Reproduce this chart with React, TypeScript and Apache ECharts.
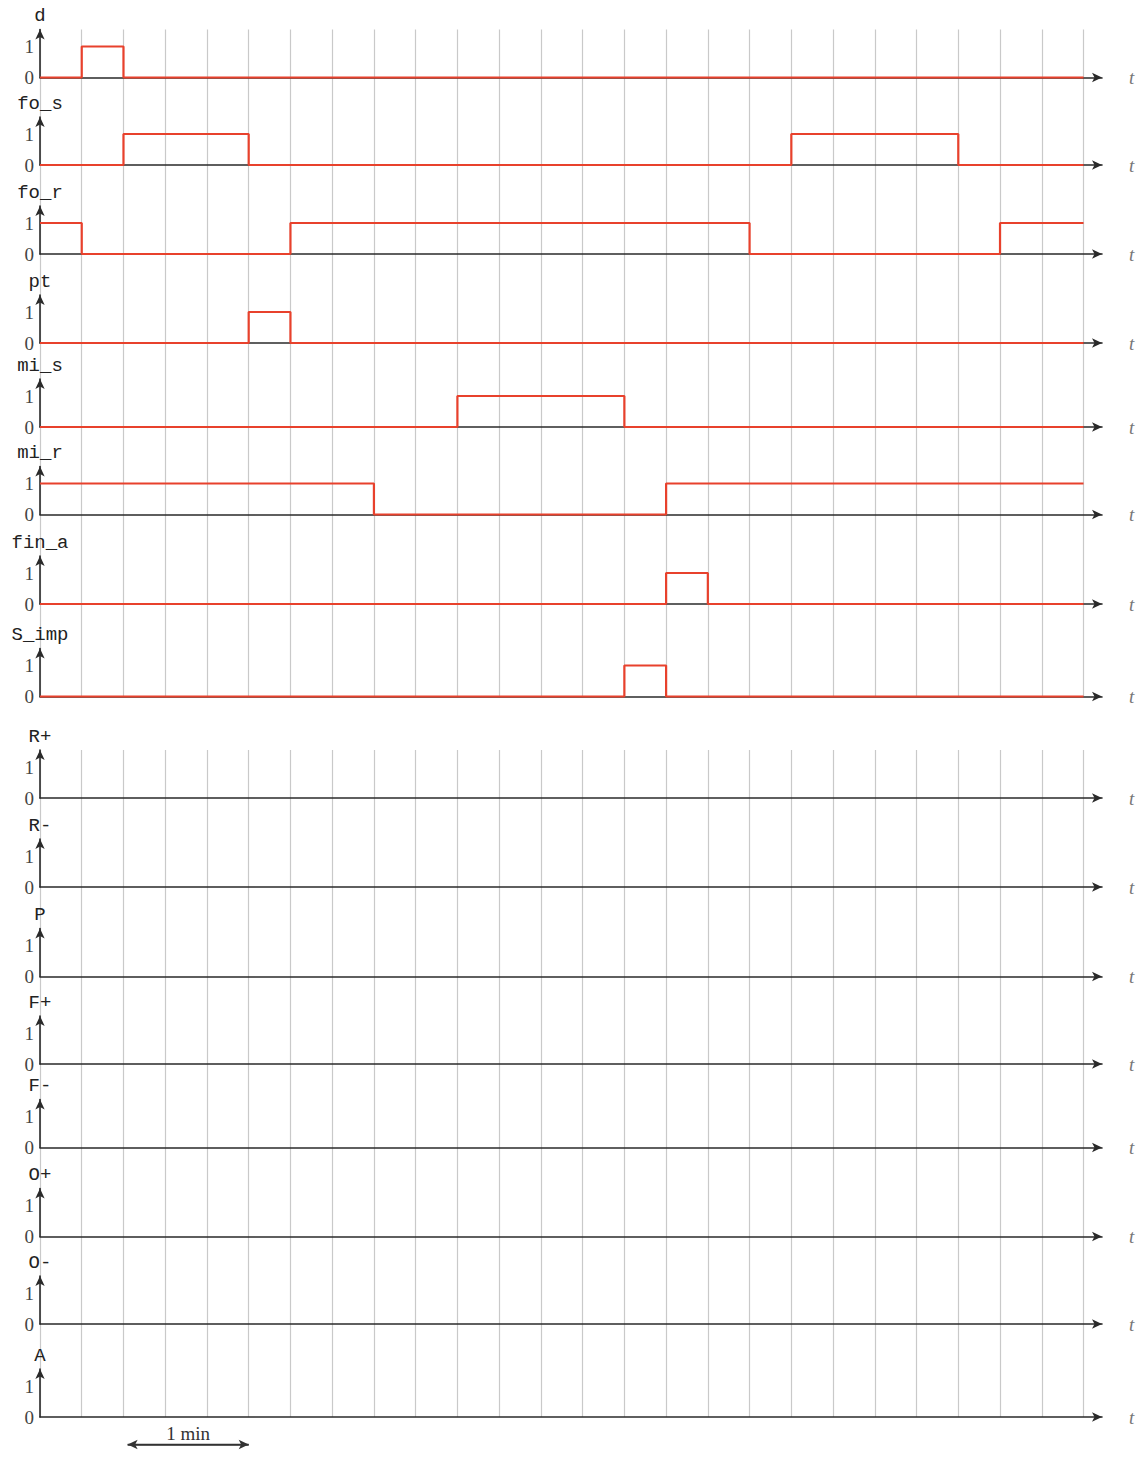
import React, { useEffect, useRef } from "react";
import * as echarts from "echarts";

// ---- data (one value per time slot of 20 s) ----
const signalNames = ["d", "fo_s", "fo_r", "pt", "mi_s", "mi_r", "fin_a", "S_imp", "R+", "R-", "P", "F+", "F-", "O+", "O-", "A"];
const d = [0, 1, 0, 0, 0, 0, 0, 0, 0, 0, 0, 0, 0, 0, 0, 0, 0, 0, 0, 0, 0, 0, 0, 0, 0];
const fo_s = [0, 0, 1, 1, 1, 0, 0, 0, 0, 0, 0, 0, 0, 0, 0, 0, 0, 0, 1, 1, 1, 1, 0, 0, 0];
const fo_r = [1, 0, 0, 0, 0, 0, 1, 1, 1, 1, 1, 1, 1, 1, 1, 1, 1, 0, 0, 0, 0, 0, 0, 1, 1];
const pt = [0, 0, 0, 0, 0, 1, 0, 0, 0, 0, 0, 0, 0, 0, 0, 0, 0, 0, 0, 0, 0, 0, 0, 0, 0];
const mi_s = [0, 0, 0, 0, 0, 0, 0, 0, 0, 0, 1, 1, 1, 1, 0, 0, 0, 0, 0, 0, 0, 0, 0, 0, 0];
const mi_r = [1, 1, 1, 1, 1, 1, 1, 1, 0, 0, 0, 0, 0, 0, 0, 1, 1, 1, 1, 1, 1, 1, 1, 1, 1];
const fin_a = [0, 0, 0, 0, 0, 0, 0, 0, 0, 0, 0, 0, 0, 0, 0, 1, 0, 0, 0, 0, 0, 0, 0, 0, 0];
const S_imp = [0, 0, 0, 0, 0, 0, 0, 0, 0, 0, 0, 0, 0, 0, 1, 0, 0, 0, 0, 0, 0, 0, 0, 0, 0];
const signalValues: (number[] | null)[] = [d, fo_s, fo_r, pt, mi_s, mi_r, fin_a, S_imp, null, null, null, null, null, null, null, null];
const yTickLabels = ["0", "1"];
const timeAxisLabel = "t";
const timeSlots = 25;
const scaleLabel = "1 min";
const scaleStart = 2.1;
const scaleEnd = 5;

// ---- layout ----
const W = 1140;
const H = 1457;
const plotLeft = 40;
const lastGridX = 1083.5;
const arrowEndX = 1102;
const rowHeight = 48;
const levelOnePx = 31;
const baselines = [77.5, 165, 254, 343, 427, 514.5, 604, 696.5, 798, 887, 976.5, 1064, 1147.5, 1236.5, 1324, 1417];
const groups = [[0, 7], [8, 15]];
const scaleBarY = 1447;

const RED = "#e8412c";
const AXIS = "#2a2a2a";
const GRID = "#c9c9c9";
const MONO = "'Liberation Mono', 'DejaVu Sans Mono', monospace";
const SERIF = "'Liberation Serif', 'DejaVu Serif', serif";

function buildOption() {
  const yMax = rowHeight / levelOnePx;
  const unitsToArrow = ((arrowEndX - plotLeft) / (lastGridX - plotLeft)) * timeSlots;
  const grids: any[] = [];
  const xAxes: any[] = [];
  const yAxes: any[] = [];
  const series: any[] = [];

  groups.forEach(([a, b], gi) => {
    grids.push({ left: plotLeft, width: lastGridX - plotLeft, top: baselines[a] - rowHeight, height: baselines[b] - baselines[a] + rowHeight });
    xAxes.push({
      gridIndex: gi, type: "value", min: 0, max: timeSlots, interval: 1,
      axisLine: { show: false }, axisTick: { show: false }, axisLabel: { show: false },
      splitLine: { show: true, lineStyle: { color: GRID, width: 1.2 } },
    });
    yAxes.push({ gridIndex: gi, type: "value", show: false, min: 0, max: 1, splitLine: { show: false } });
  });

  signalNames.forEach((name, i) => {
    const gi = grids.length;
    grids.push({ left: plotLeft, width: arrowEndX - plotLeft, top: baselines[i] - rowHeight, height: rowHeight });
    xAxes.push({
      gridIndex: gi, type: "value", min: 0, max: unitsToArrow,
      axisLine: { show: true, symbol: ["none", "arrow"], symbolSize: [7, 10], lineStyle: { color: AXIS, width: 1.6 } },
      axisTick: { show: false }, axisLabel: { show: false }, splitLine: { show: false },
      name: timeAxisLabel, nameLocation: "end", nameGap: 27,
      nameTextStyle: { fontFamily: SERIF, fontStyle: "italic", fontSize: 19, color: "#777" },
    });
    yAxes.push({
      gridIndex: gi, type: "value", min: 0, max: yMax, interval: 1,
      axisLine: { show: true, symbol: ["none", "arrow"], symbolSize: [7, 10], lineStyle: { color: AXIS, width: 1.6 } },
      axisTick: { show: false },
      axisLabel: {
        margin: 6, fontFamily: SERIF, fontSize: 19, color: "#444",
        formatter: (v: number) => (Math.abs(v) < 1e-9 ? yTickLabels[0] : Math.abs(v - 1) < 1e-9 ? yTickLabels[1] : ""),
      },
      splitLine: { show: false },
      name, nameLocation: "end", nameGap: 4,
      nameTextStyle: { fontFamily: MONO, fontSize: 19, color: "#222", align: "center" },
    });
    const vals = signalValues[i];
    const data: number[][] = [];
    if (vals) {
      vals.forEach((v, k) => data.push([k, v]));
      data.push([timeSlots, vals[vals.length - 1]]);
    }
    series.push({
      type: "line", xAxisIndex: gi, yAxisIndex: gi, data, step: "end",
      showSymbol: false, symbol: "none", clip: false, z: 5,
      lineStyle: { color: RED, width: 2.2 },
    });
  });

  // scale bar ("1 min") in its own strip below the last row
  const sg = grids.length;
  grids.push({ left: plotLeft, width: lastGridX - plotLeft, top: scaleBarY - 15, height: 30 });
  xAxes.push({ gridIndex: sg, type: "value", min: 0, max: timeSlots, show: false });
  yAxes.push({ gridIndex: sg, type: "value", min: -1, max: 1, show: false });
  series.push({
    type: "line", xAxisIndex: sg, yAxisIndex: sg,
    data: [[scaleStart, 0], [scaleEnd, 0]],
    showSymbol: false, symbol: "none", lineStyle: { color: "#333", width: 1.6 },
    markLine: {
      silent: true, symbol: ["arrow", "arrow"], symbolSize: [7, 10],
      lineStyle: { color: "#333", width: 1.6, type: "solid" },
      label: { show: true, position: "middle", formatter: scaleLabel, fontFamily: SERIF, fontSize: 19, color: "#333", distance: 2 },
      data: [[{ coord: [scaleStart, 0] }, { coord: [scaleEnd, 0] }]],
    },
  });

  return { animation: false, backgroundColor: "#ffffff", grid: grids, xAxis: xAxes, yAxis: yAxes, series };
}

export default function App() {
  const ref = useRef<HTMLDivElement>(null);
  useEffect(() => {
    document.body.style.margin = "0";
    if (!ref.current) return;
    const chart = echarts.init(ref.current, undefined, { renderer: "svg" });
    chart.setOption(buildOption() as any);
    return () => chart.dispose();
  }, []);
  return <div ref={ref} style={{ position: "fixed", left: 0, top: 0, width: W, height: H, background: "#fff" }} />;
}
